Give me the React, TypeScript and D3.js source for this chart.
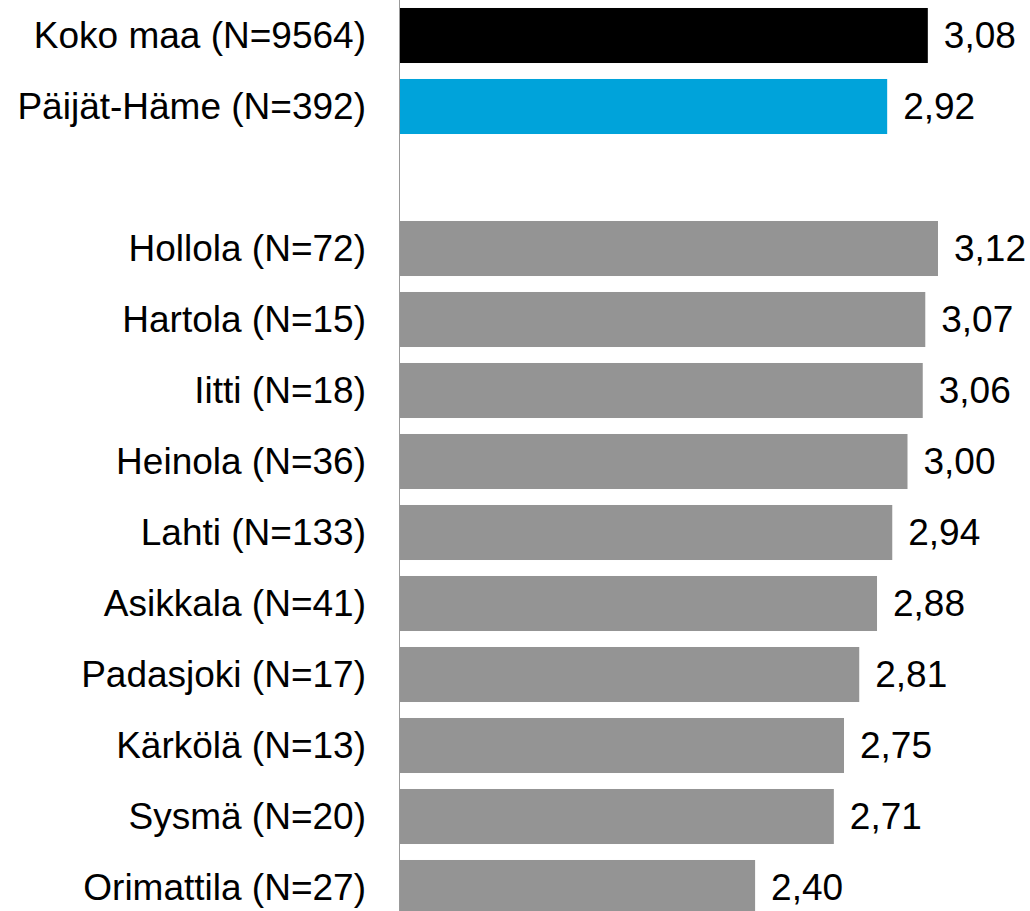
import React from "react";
import * as d3 from "d3";

const categories = [
  "Koko maa (N=9564)",
  "Päijät-Häme (N=392)",
  "",
  "Hollola (N=72)",
  "Hartola (N=15)",
  "Iitti (N=18)",
  "Heinola (N=36)",
  "Lahti (N=133)",
  "Asikkala (N=41)",
  "Padasjoki (N=17)",
  "Kärkölä (N=13)",
  "Sysmä (N=20)",
  "Orimattila (N=27)",
];
const values: (number | null)[] = [3.08, 2.92, null, 3.12, 3.07, 3.06, 3.0, 2.94, 2.88, 2.81, 2.75, 2.71, 2.4];
const colors = ["#000000", "#00a3da", "none", "#949494", "#949494", "#949494", "#949494", "#949494", "#949494", "#949494", "#949494", "#949494", "#949494"];

const W = 1030;
const H = 911;
const FS = 37;

export default function App() {
  const keys = categories.map((c, i) => `r${i}`);
  const y = d3.scaleBand<string>().domain(keys).range([0, 923]).paddingInner(0.225).paddingOuter(0.1125);
  const x = d3.scaleLinear().domain([1, 5]).range([399.5, 399.5 + 4 * 254]);
  const fmt = (v: number) => d3.format(".2f")(v).replace(".", ",");
  return (
    <div style={{ position: "fixed", left: 0, top: 0 }}>
      <svg width={W} height={H} style={{ display: "block", fontFamily: "Arial, 'Liberation Sans', sans-serif" }}>
        <rect width={W} height={H} fill="#fff" />
        {values.map((v, i) => {
          const yy = y(keys[i])!;
          const cy = yy + y.bandwidth() / 2;
          return (
            <g key={i}>
              {v !== null && (
                <>
                  <rect x={x(1)} y={yy} width={x(v) - x(1)} height={y.bandwidth()} fill={colors[i]} />
                  <text x={x(v) + 16} y={cy} dy="0.35em" fontSize={FS} fill="#000">
                    {fmt(v)}
                  </text>
                </>
              )}
              {categories[i] && (
                <text x={366} y={cy} dy="0.35em" fontSize={FS} textAnchor="end" fill="#000">
                  {categories[i]}
                </text>
              )}
            </g>
          );
        })}
        <line x1={399.5} x2={399.5} y1={0} y2={H} stroke="#999" strokeWidth={1} />
      </svg>
    </div>
  );
}
